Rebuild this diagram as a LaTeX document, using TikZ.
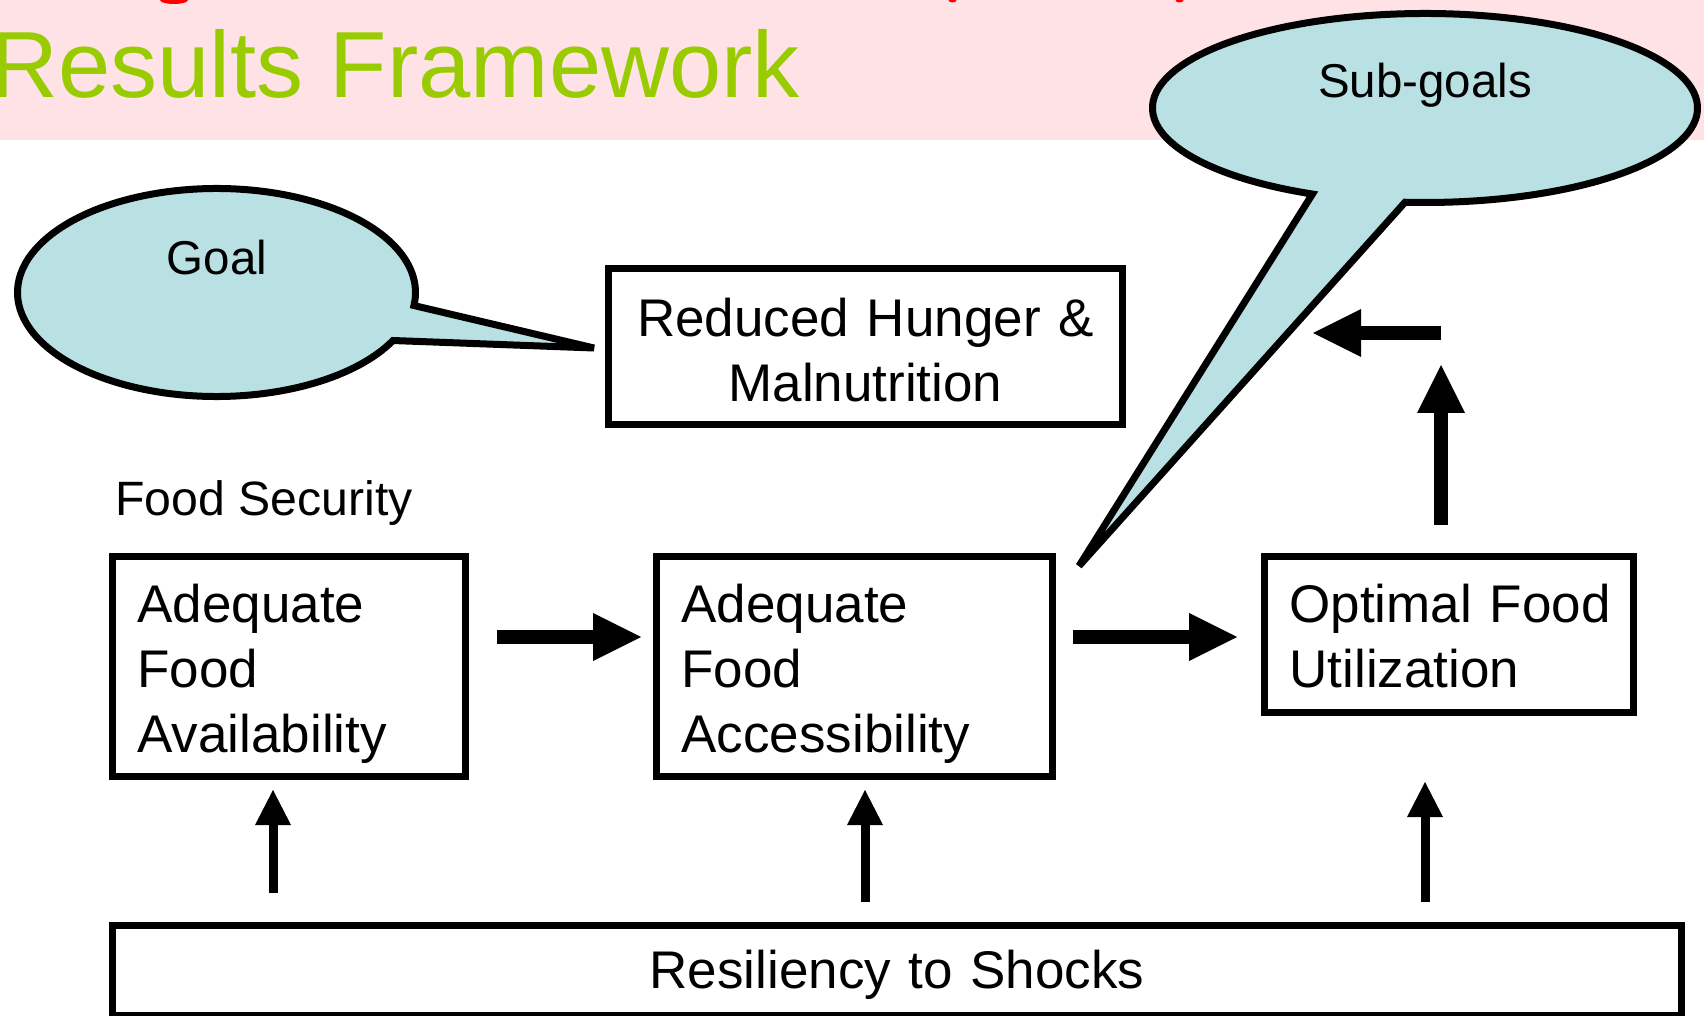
\documentclass[tikz,border=0pt]{standalone}
\usepackage{fontspec}
\setmainfont{Liberation Sans}
\usetikzlibrary{arrows.meta,calc}
\definecolor{pinkbg}{RGB}{255,226,230}
\definecolor{callfill}{RGB}{185,224,227}
\definecolor{titlegreen}{RGB}{153,204,0}
\definecolor{titlered}{RGB}{255,0,0}
\begin{document}
\begin{tikzpicture}[x=0.5pt,y=-0.5pt,
  box/.style={draw, line width=3.5pt, outer sep=0pt, inner ysep=0pt, inner xsep=12.5pt,
    font=\fontsize{26.5}{32.5}\selectfont},
  callout/.style={draw, fill=callfill, line width=3.5pt, line join=miter},
  calltext/.style={inner sep=0pt, anchor=base, font=\fontsize{23.75}{28}\selectfont},
  bigarrow/.style={line width=7pt, -{Triangle[length=24pt,width=24pt,line width=0pt]}},
  thinarrow/.style={line width=4.5pt, -{Triangle[length=17.5pt,width=18pt,line width=0pt]}}
]
\useasboundingbox (0,0) rectangle (1704,1016);
\clip (0,0) rectangle (1704,1016);
% title band
\fill[pinkbg] (0,0) rectangle (1704,140);
\fill[titlered] (174,0) ellipse [x radius=14, y radius=4];
\fill[titlered] (952.5,0) ellipse [x radius=4, y radius=2.5];
\fill[titlered] (1179.5,0) ellipse [x radius=4, y radius=2.5];
\node[anchor=base west, inner sep=0pt, text=titlegreen, font=\fontsize{47}{56}\selectfont] (title) at (-10,98) {Results Framework};

% callouts
\draw[callout] (216.5,292.5) ++(27.5:199 and 104)
  arc[start angle=27.5, end angle=367.2, x radius=199, y radius=104] -- (594,348) -- cycle;
\node[calltext] (goal) at (217,275) {Goal};

\draw[callout] (1425,108) ++(114.4:272.5 and 94.5)
  arc[start angle=114.4, end angle=454.2, x radius=272.5, y radius=94.5] -- (1079,566) -- cycle;
\node[calltext] (subgoals) at (1425,98) {Sub-goals};

% boxes
\node[box, align=center, text width=232pt, text height=33.75pt, text depth=44.25pt] (hunger) at (865.5,346.5)
  {Reduced Hunger \&\\Malnutrition};
\node[anchor=base west, inner sep=0pt, font=\fontsize{24.1}{28}\selectfont] (fs) at (115,515) {Food Security};
\node[box, align=left, text width=151.5pt, text height=32.75pt, text depth=77.25pt] (avail) at (289,666.5)
  {Adequate\\Food\\Availability};
\node[box, align=left, text width=173pt, text height=32.75pt, text depth=77.25pt] (access) at (854.5,666.5)
  {Adequate\\Food\\Accessibility};
\node[box, align=left, text width=159.5pt, text height=32.75pt, text depth=45.25pt] (optimal) at (1449,634.5)
  {\mbox{Optimal Food}\\Utilization};
\node[box, align=center, text width=759.5pt, text height=31.5pt, text depth=13.5pt] (resil) at (897,970)
  {Resiliency to Shocks};

% arrow helper coordinates
\coordinate (row) at (0,637);
\coordinate (uptip) at (1441,365);
\coordinate (leftstart) at (1441,333);
\coordinate (lefttip) at (1313,333);
\coordinate (c1) at (273,0);
\coordinate (c2) at (865,0);
\coordinate (c3) at (1425,0);

% thick arrows
\draw[bigarrow, shorten <=15.75pt, shorten >=7.75pt] (avail.east |- row) -- (access.west |- row);
\draw[bigarrow, shorten <=10.25pt, shorten >=13.75pt] (access.east |- row) -- (optimal.west |- row);
\draw[bigarrow, shorten <=15.75pt] (optimal.north -| uptip) -- (uptip);
\draw[bigarrow] (leftstart) -- (lefttip);

% thin arrows
\draw[thinarrow, shorten <=16pt, shorten >=6.75pt] (resil.north -| c1) -- (avail.south -| c1);
\draw[thinarrow, shorten <=11.5pt, shorten >=6.75pt] (resil.north -| c2) -- (access.south -| c2);
\draw[thinarrow, shorten <=11.5pt, shorten >=34.75pt] (resil.north -| c3) -- (optimal.south -| c3);
\end{tikzpicture}
\end{document}
